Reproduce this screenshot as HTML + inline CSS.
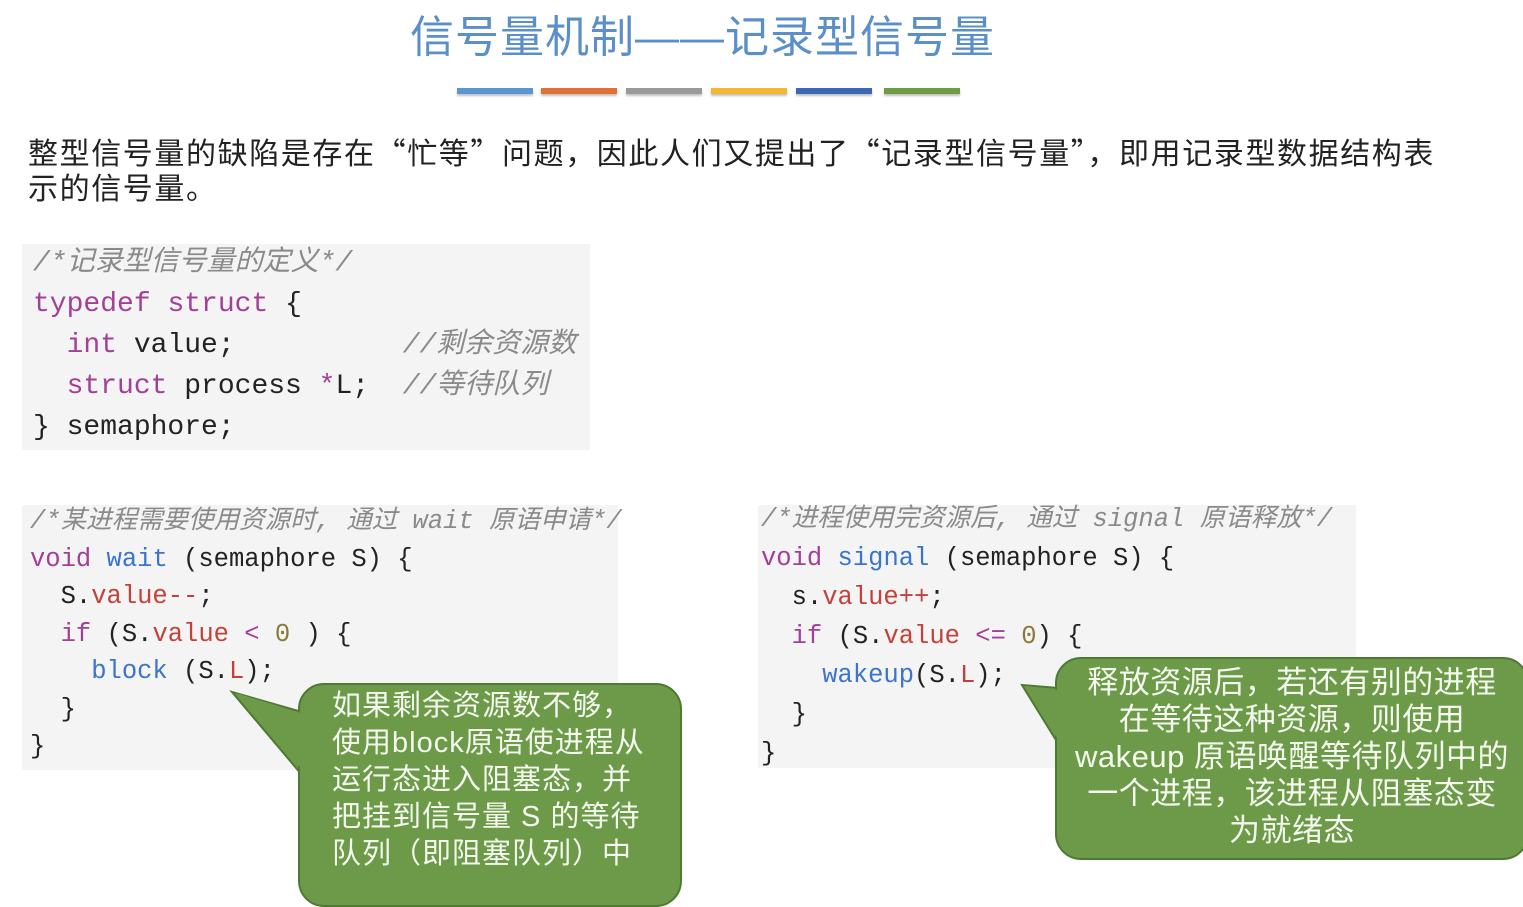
<!DOCTYPE html>
<html><head><meta charset="utf-8"><style>
body{margin:0;width:1523px;height:871px;background:#fff;position:relative;overflow:hidden;font-family:"Liberation Sans","Noto Sans CJK SC",sans-serif;}
.a{position:absolute;white-space:pre;}
.title{left:410px;top:10px;font-size:44px;color:#5b8fc9;letter-spacing:1px;line-height:56px;font-family:"Liberation Sans","Noto Sans CJK SC",sans-serif;}
.bar{position:absolute;top:88px;height:6px;width:76px;box-shadow:0 2px 2px rgba(0,0,0,.25);}
.p{left:28px;font-size:30px;letter-spacing:1.6px;color:#222;line-height:36px;font-family:"Noto Sans CJK SC",sans-serif;}
.box{position:absolute;background:#f4f4f4;}
.code{font-family:"Liberation Mono","Noto Sans CJK SC",monospace;color:#222;}
.k{color:#a33f97}.f{color:#3a74cc}.r{color:#c2423a}.n{color:#8a7a3a}
.c{color:#8a8a8a;font-style:italic}
.call{position:absolute;background:#6c9a48;border:2px solid #4d7a33;border-radius:26px;color:#f4f8ee;text-align:center;}
</style></head><body>
<div class="a title">信号量机制——记录型信号量</div>
<div class="bar" style="left:457px;background:#5b96d2"></div>
<div class="bar" style="left:541px;background:#e07238"></div>
<div class="bar" style="left:626px;background:#9a9a9a"></div>
<div class="bar" style="left:711px;background:#f5b731"></div>
<div class="bar" style="left:796px;background:#3d66b3"></div>
<div class="bar" style="left:884px;background:#6c9d43"></div>

<div class="a p" style="top:133px">整型信号量的缺陷是存在“忙等”问题，因此人们又提出了“记录型信号量”，即用记录型数据结构表</div>
<div class="a p" style="top:168px">示的信号量。</div>

<div class="box" style="left:22px;top:244px;width:568px;height:206px"></div>
<div class="a code" style="left:33px;top:243px;font-size:28px;line-height:41px"><span class="c">/*记录型信号量的定义*/</span>
<span class="k">typedef</span> <span class="k">struct</span> {
  <span class="k">int</span> value;          <span class="c">//剩余资源数</span>
  <span class="k">struct</span> process <span class="k">*</span>L;  <span class="c">//等待队列</span>
} semaphore;</div>

<div class="box" style="left:22px;top:505px;width:596px;height:265px"></div>
<div class="a code" style="left:30px;top:503px;font-size:25.5px;line-height:37.5px"><span class="c">/*某进程需要使用资源时, 通过 wait 原语申请*/</span>
<span class="k">void</span> <span class="f">wait</span> (semaphore S) {
  S.<span class="r">value--</span>;
  <span class="k">if</span> (S.<span class="r">value</span> <span class="k">&lt;</span> <span class="n">0</span> ) {
    <span class="f">block</span> (S.<span class="r">L</span>);
  }
}</div>

<div class="box" style="left:758px;top:505px;width:598px;height:263px"></div>
<div class="a code" style="left:761px;top:500px;font-size:25.5px;line-height:39px"><span class="c">/*进程使用完资源后, 通过 signal 原语释放*/</span>
<span class="k">void</span> <span class="f">signal</span> (semaphore S) {
  s.<span class="r">value++</span>;
  <span class="k">if</span> (S.<span class="r">value</span> <span class="k">&lt;=</span> <span class="n">0</span>) {
    <span class="f">wakeup</span>(S.<span class="r">L</span>);
  }
}</div>

<svg style="position:absolute;left:0;top:0" width="1523" height="871">
<polygon points="232,692 302,712 302,775" fill="#6c9a48" stroke="#4d7a33" stroke-width="2"/>
<polygon points="1022,685 1059,688 1059,745" fill="#6c9a48" stroke="#4d7a33" stroke-width="2"/>
</svg>
<div class="call" style="left:298px;top:683px;width:380px;height:220px;"></div>
<div class="call" style="left:1055px;top:657px;width:470px;height:199px;"></div>
<svg style="position:absolute;left:0;top:0" width="1523" height="871">
<polygon points="236,693 304,714 304,772" fill="#6c9a48"/>
<polygon points="1026,686 1060,690 1060,743" fill="#6c9a48"/>
</svg>
<div class="a" style="left:300px;top:688px;width:378px;text-align:left;padding-left:32px;box-sizing:border-box;font-size:29px;line-height:37px;color:#f4f8ee;letter-spacing:1px">如果剩余资源数不够，
使用block原语使进程从
运行态进入阻塞态，并
把挂到信号量 S 的等待
队列（即阻塞队列）中</div>
<div class="a" style="left:1057px;top:664px;width:470px;text-align:center;font-size:31px;line-height:37px;color:#f4f8ee;letter-spacing:0.5px">释放资源后，若还有别的进程
在等待这种资源，则使用
wakeup 原语唤醒等待队列中的
一个进程，该进程从阻塞态变
为就绪态</div>
</body></html>
